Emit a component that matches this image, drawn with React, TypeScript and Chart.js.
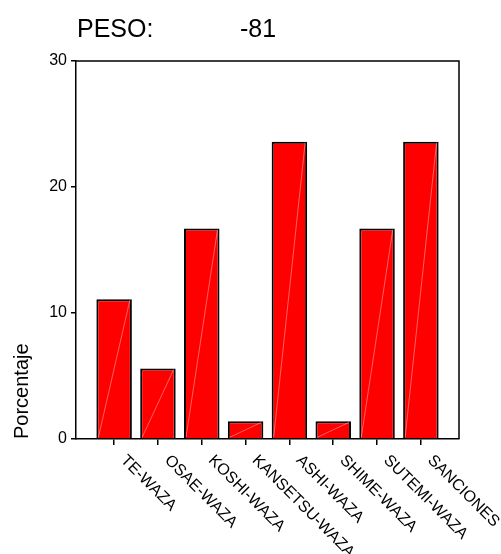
import React, { useEffect, useRef } from "react";
import { Chart, registerables } from "chart.js";

Chart.register(...registerables);

const TITLE_LABEL = "PESO:";
const TITLE_VALUE = "-81";
const CATEGORIES = [
  "TE-WAZA",
  "OSAE-WAZA",
  "KOSHI-WAZA",
  "KANSETSU-WAZA",
  "ASHI-WAZA",
  "SHIME-WAZA",
  "SUTEMI-WAZA",
  "SANCIONES",
];
const PERCENTAGES = [11.1, 5.6, 16.7, 1.4, 23.6, 1.4, 16.7, 23.6];
const Y_TICKS = [0, 10, 20, 30];
const Y_LABEL = "Porcentaje";

const FONT = "Arial, 'Liberation Sans', sans-serif";

const framePlugin = {
  id: "frameAndLabels",
  afterDraw(chart: any) {
    const { ctx, chartArea, scales } = chart;
    const { left, right, top, bottom } = chartArea;
    ctx.save();
    // faint diagonal artifacts inside the bars
    const meta = chart.getDatasetMeta(0);
    ctx.strokeStyle = "rgba(255,190,190,0.85)";
    ctx.lineWidth = 0.6;
    meta.data.forEach((bar: any) => {
      const p = bar.getProps(["x", "y", "base", "width"], true);
      const x0 = p.x - p.width / 2 + 2;
      const x1 = p.x + p.width / 2 - 2;
      ctx.beginPath();
      ctx.moveTo(x0, p.base - 1);
      ctx.lineTo(x1, p.y + 1);
      ctx.stroke();
    });
    // top and right frame
    ctx.strokeStyle = "#000";
    ctx.lineWidth = 1.5;
    ctx.beginPath();
    ctx.moveTo(left, top);
    ctx.lineTo(right, top);
    ctx.lineTo(right, bottom);
    ctx.stroke();
    // title
    ctx.fillStyle = "#000";
    ctx.font = `25px ${FONT}`;
    ctx.textAlign = "left";
    ctx.textBaseline = "alphabetic";
    ctx.fillText(TITLE_LABEL, left + 1, 37);
    ctx.fillText(TITLE_VALUE, left + 164, 37);
    // x labels rotated clockwise, starting just right of each tick
    ctx.font = `16px ${FONT}`;
    ctx.textBaseline = "alphabetic";
    CATEGORIES.forEach((c, i) => {
      const x = scales.x.getPixelForValue(i);
      ctx.save();
      ctx.translate(x + 6, bottom + 22);
      ctx.rotate(Math.PI / 4);
      ctx.fillText(c, 0, 0);
      ctx.restore();
    });
    ctx.restore();
  },
};

export default function App() {
  const ref = useRef<HTMLCanvasElement | null>(null);
  useEffect(() => {
    if (!ref.current) return;
    const chart = new Chart(ref.current, {
      type: "bar",
      data: {
        datasets: [
          {
            data: PERCENTAGES.map((v, i) => ({ x: i, y: v })),
            backgroundColor: "#ff0000",
            borderColor: "#000000",
            borderWidth: 2,
            categoryPercentage: 1,
            barPercentage: 0.81,
          },
        ],
      },
      options: {
        animation: false,
        responsive: false,
        layout: { padding: { top: 61, right: 42, left: 0, bottom: 0 } },
        plugins: {
          legend: { display: false },
          title: { display: false },
          tooltip: { enabled: false },
        },
        scales: {
          x: {
            type: "linear",
            offset: false,
            min: -0.87,
            max: 7.87,
            afterBuildTicks: (axis: any) => {
              axis.ticks = CATEGORIES.map((_, i) => ({ value: i }));
            },
            afterFit: (s: any) => {
              s.height = 115;
            },
            ticks: { display: false },
            grid: {
              offset: false,
              drawOnChartArea: false,
              drawTicks: true,
              tickLength: 6,
              color: "#000",
              lineWidth: 1.5,
            },
            border: { display: true, color: "#000", width: 1.5 },
          },
          y: {
            min: 0,
            max: 30,
            afterBuildTicks: (axis: any) => {
              axis.ticks = Y_TICKS.map((v) => ({ value: v }));
            },
            afterFit: (s: any) => {
              s.width = 76;
            },
            ticks: {
              color: "#000",
              font: { family: FONT, size: 16 },
              padding: 4,
            },
            grid: {
              drawOnChartArea: false,
              drawTicks: true,
              tickLength: 5,
              color: "#000",
              lineWidth: 1.5,
            },
            border: { display: true, color: "#000", width: 1.5 },
            title: {
              display: true,
              text: Y_LABEL,
              align: "start",
              color: "#000",
              font: { family: FONT, size: 20 },
              padding: { top: 10, bottom: 0 },
            },
          },
        },
      },
      plugins: [framePlugin],
    } as any);
    return () => chart.destroy();
  }, []);
  return (
    <div style={{ position: "fixed", left: 0, top: 0, width: 501, height: 554 }}>
      <canvas ref={ref} width={501} height={554} style={{ display: "block" }} />
    </div>
  );
}
